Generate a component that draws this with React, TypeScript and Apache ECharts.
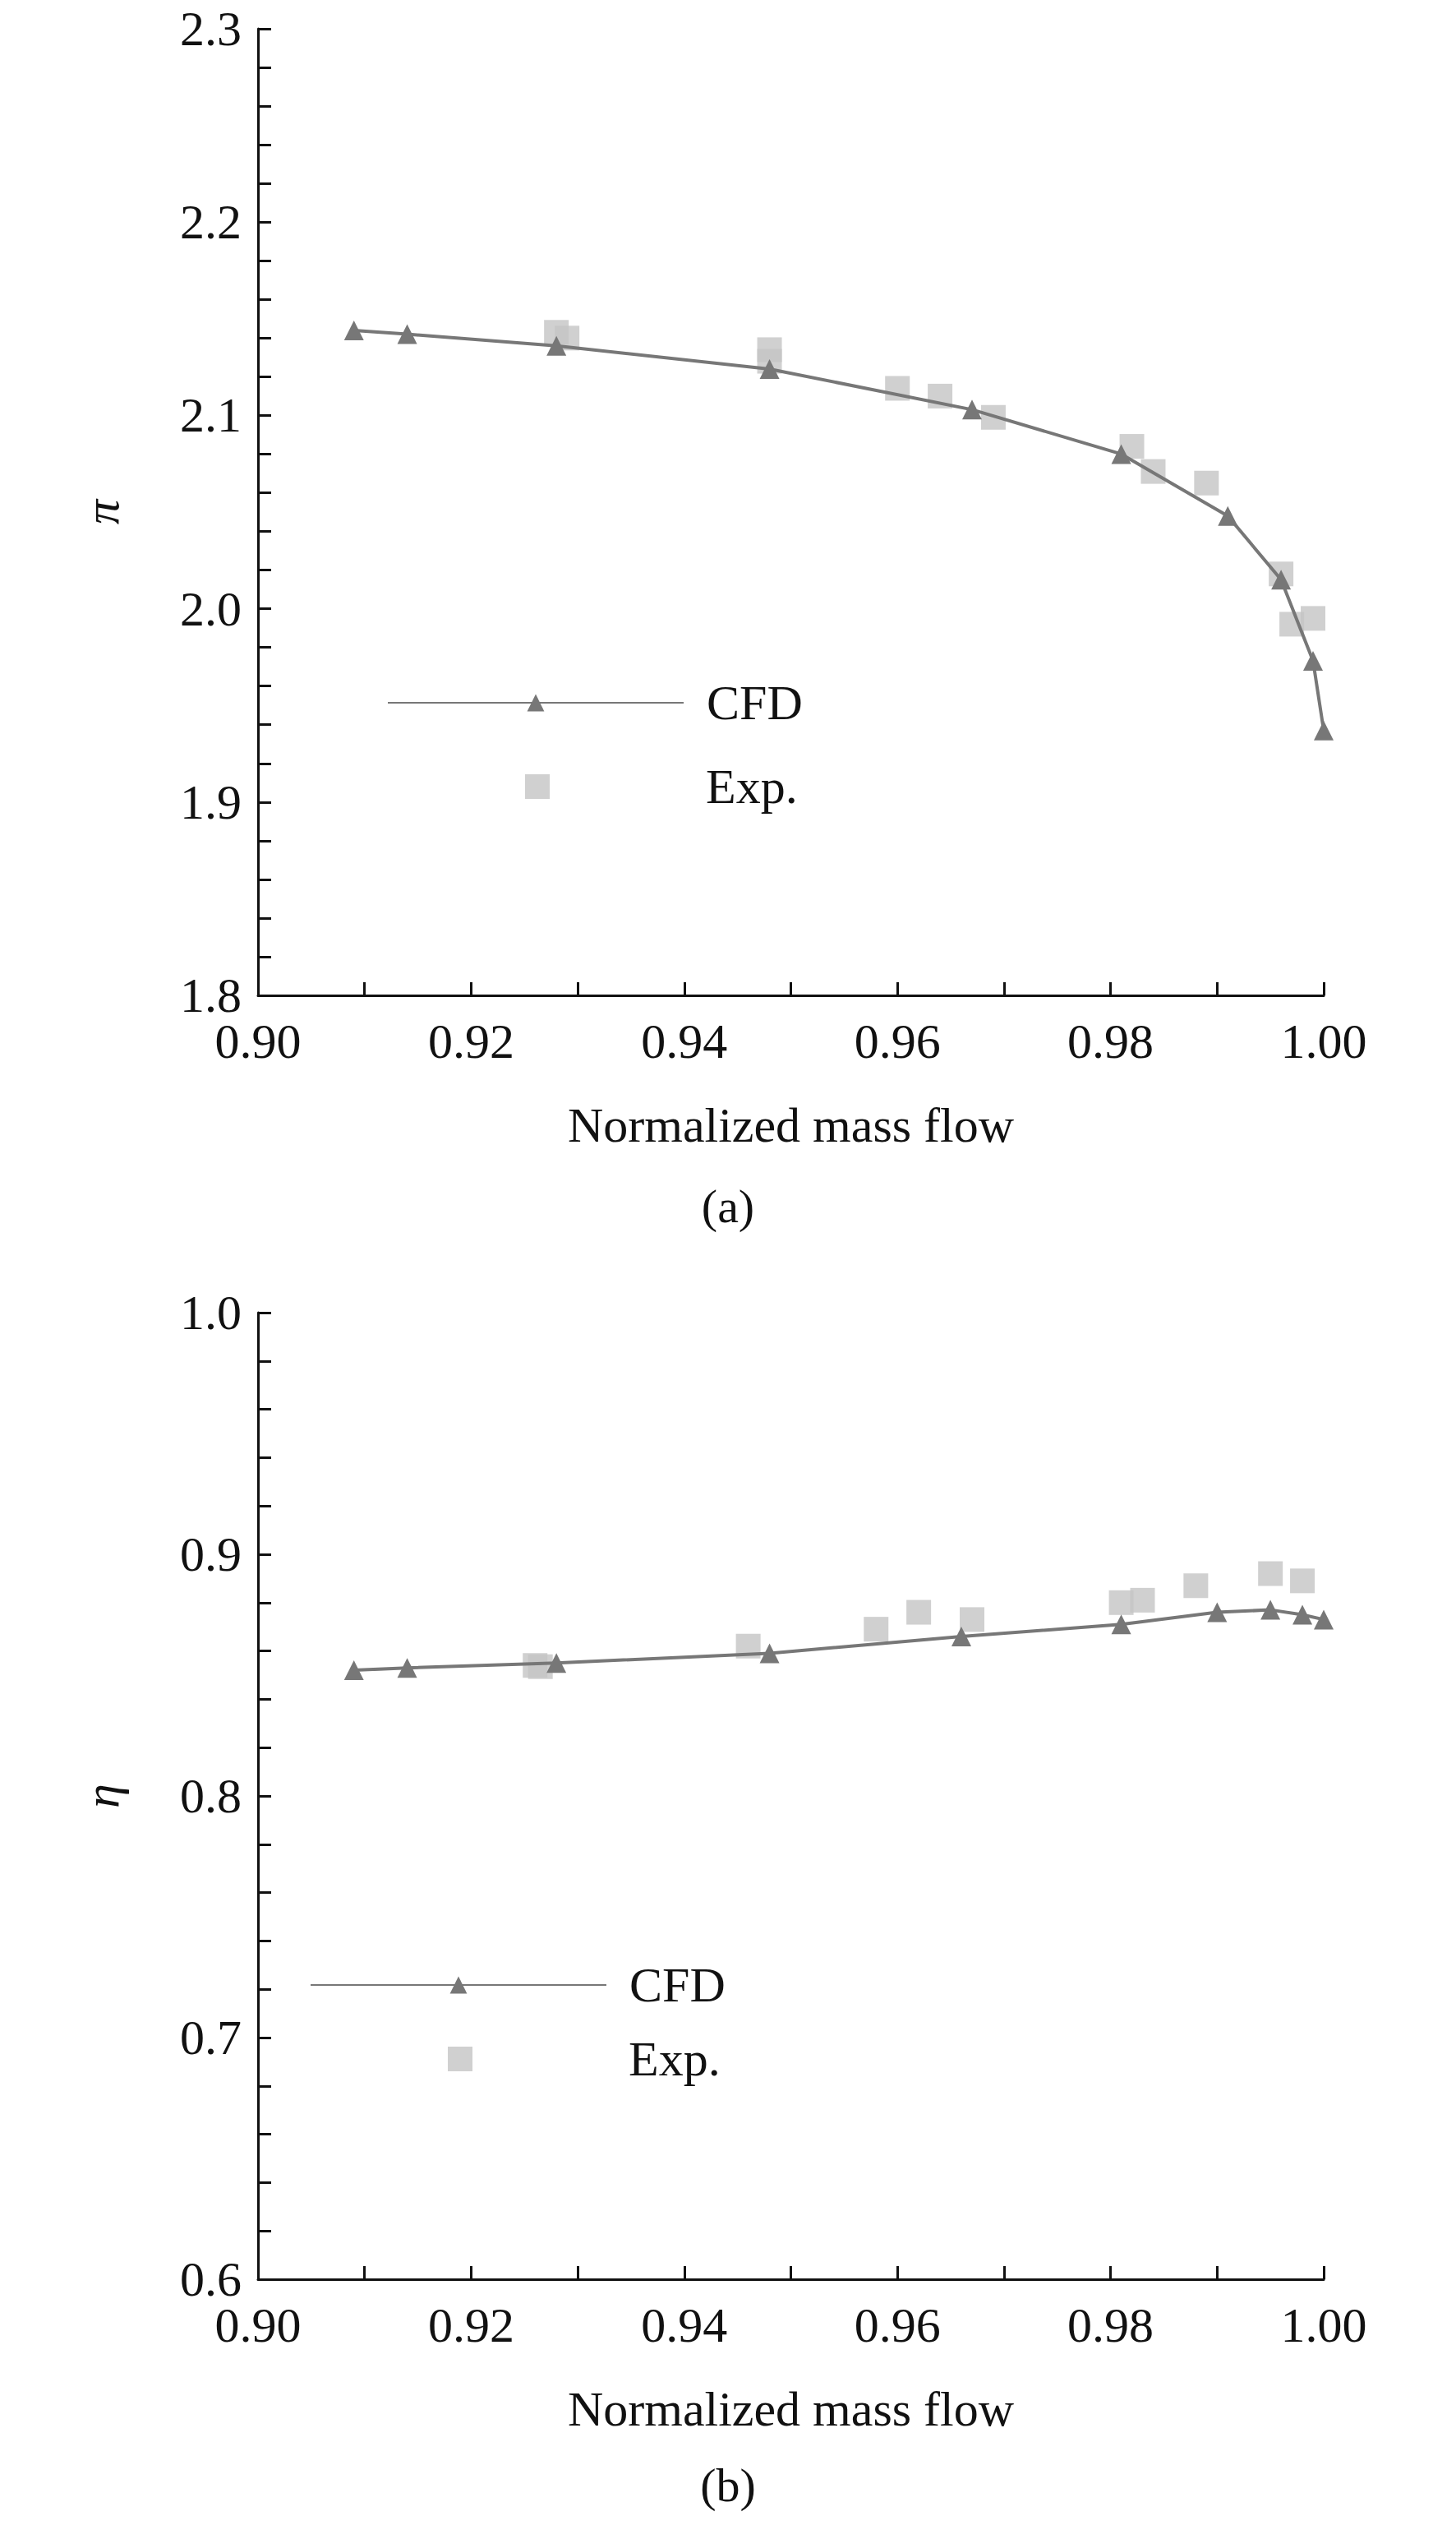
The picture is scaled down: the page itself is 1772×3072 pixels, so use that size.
import { useEffect, useRef } from 'react'
import * as echarts from 'echarts'

const cfdA: [number, number][] = [
  [0.909, 2.144], [0.914, 2.142], [0.928, 2.136], [0.948, 2.124], [0.967, 2.103],
  [0.981, 2.080], [0.991, 2.048], [0.996, 2.015], [0.999, 1.973], [1.0, 1.937],
]
const expA: [number, number][] = [
  [0.928, 2.143], [0.929, 2.140], [0.948, 2.134], [0.948, 2.128], [0.960, 2.114],
  [0.964, 2.110], [0.969, 2.099], [0.982, 2.084], [0.984, 2.071], [0.989, 2.065],
  [0.996, 2.018], [0.997, 1.992], [0.999, 1.995],
]
const cfdB: [number, number][] = [
  [0.909, 0.852], [0.914, 0.853], [0.928, 0.855], [0.948, 0.859], [0.966, 0.866],
  [0.981, 0.871], [0.990, 0.876], [0.995, 0.877], [0.998, 0.875], [1.0, 0.873],
]
const expB: [number, number][] = [
  [0.926, 0.854], [0.9265, 0.8535], [0.946, 0.862], [0.958, 0.869], [0.962, 0.876],
  [0.967, 0.873], [0.981, 0.880], [0.983, 0.881], [0.988, 0.887], [0.995, 0.892],
  [0.998, 0.889],
]

const font = '"Liberation Serif", "Times New Roman", serif'
const lineColor = '#777'
const expColor = '#c4c4c4'

function xAxis(gridIndex: number) {
  return {
    type: 'value', gridIndex, min: 0.9, max: 1.0, interval: 0.02,
    name: 'Normalized mass flow', nameLocation: 'middle', nameGap: 128,
    nameTextStyle: { fontFamily: font, fontSize: 60, color: '#111' },
    axisLine: { lineStyle: { color: '#111', width: 3 } },
    axisTick: { inside: true, length: 16, lineStyle: { color: '#111', width: 3 } },
    minorTick: { show: true, splitNumber: 2, length: 16, lineStyle: { color: '#111', width: 3 } },
    axisLabel: { fontFamily: font, fontSize: 60, color: '#111', margin: 26,
      formatter: (v: number) => v.toFixed(2) },
    splitLine: { show: false },
  }
}
function yAxis(gridIndex: number, min: number, max: number, name: string) {
  return {
    type: 'value', gridIndex, min, max, interval: 0.1,
    name, nameLocation: 'middle', nameGap: 160, nameRotate: 90,
    nameTextStyle: { fontFamily: font, fontSize: 60, fontStyle: 'italic', color: '#111' },
    axisLine: { show: true, lineStyle: { color: '#111', width: 3 } },
    axisTick: { inside: true, length: 16, lineStyle: { color: '#111', width: 3 } },
    minorTick: { show: true, splitNumber: 5, length: 16, lineStyle: { color: '#111', width: 3 } },
    axisLabel: { fontFamily: font, fontSize: 60, color: '#111', margin: 20,
      formatter: (v: number) => v.toFixed(1) },
    splitLine: { show: false },
  }
}

const legendItem = (name: string, top: number, left: number, w: number, h: number, pad: number) => ({
  orient: 'vertical', left, top, itemWidth: w, itemHeight: h,
  textStyle: { fontFamily: font, fontSize: 60, color: '#111', padding: [0, 0, 0, pad] },
  data: [name],
  formatter: (n: string) => n.replace(/\d$/, ''),
})

export default function App() {
  const ref = useRef<HTMLDivElement>(null)

  useEffect(() => {
    document.body.style.margin = '0'
    if (!ref.current) return
    const chart = echarts.init(ref.current, null, { renderer: 'svg' })

    chart.setOption({
      animation: false,
      backgroundColor: '#fff',
      grid: [
        { left: 314, right: 161, top: 35, height: 1176 },
        { left: 314, right: 161, top: 1597, height: 1176 },
      ],
      xAxis: [xAxis(0), xAxis(1)],
      yAxis: [yAxis(0, 1.8, 2.3, 'π'), yAxis(1, 0.6, 1.0, 'η')],
      legend: [
        legendItem('CFD0', 820, 466, 360, 26, 23),
        legendItem('Exp.0', 922, 634, 30, 30, 185),
        legendItem('CFD1', 2380, 372, 360, 26, 23),
        legendItem('Exp.1', 2470, 540, 30, 30, 185),
      ],
      series: [
        { name: 'CFD0', type: 'line', data: cfdA, xAxisIndex: 0, yAxisIndex: 0,
          symbol: 'triangle', symbolSize: 24, lineStyle: { color: lineColor, width: 4 },
          itemStyle: { color: lineColor } },
        { name: 'Exp.0', type: 'scatter', data: expA, xAxisIndex: 0, yAxisIndex: 0,
          symbol: 'rect', symbolSize: 30, itemStyle: { color: expColor } },
        { name: 'CFD1', type: 'line', data: cfdB, xAxisIndex: 1, yAxisIndex: 1,
          symbol: 'triangle', symbolSize: 24, lineStyle: { color: lineColor, width: 4 },
          itemStyle: { color: lineColor } },
        { name: 'Exp.1', type: 'scatter', data: expB, xAxisIndex: 1, yAxisIndex: 1,
          symbol: 'rect', symbolSize: 30, itemStyle: { color: expColor } },
      ],
      graphic: [
        { type: 'text', left: 'center', top: 1438, style: { text: '(a)', font: `58px ${font}`, fill: '#111' } },
        { type: 'text', left: 'center', top: 2994, style: { text: '(b)', font: `58px ${font}`, fill: '#111' } },
      ],
    })
    return () => chart.dispose()
  }, [])

  return <div ref={ref} style={{ width: 1772, height: 3072 }} />
}
